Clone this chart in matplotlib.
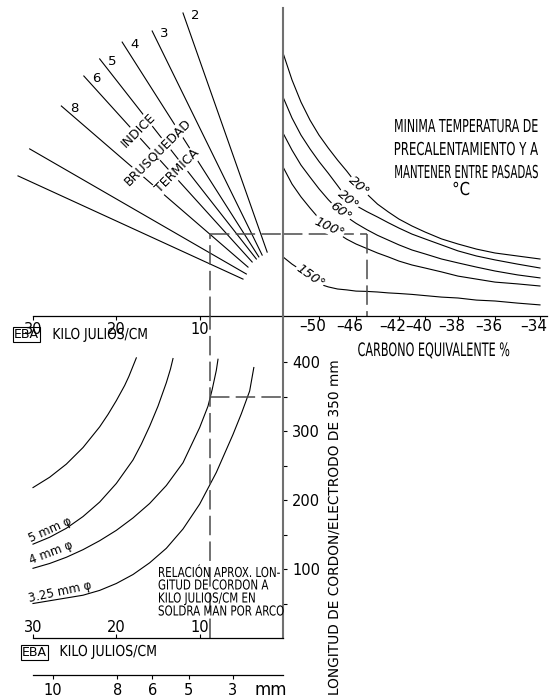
import numpy as np
import matplotlib
matplotlib.use('Agg')
import matplotlib.pyplot as plt
from matplotlib.transforms import Affine2D
from matplotlib.patheffects import AbstractPathEffect

plt.rcParams['font.family'] = ['DejaVu Sans']
plt.rcParams['lines.scale_dashes'] = False

W, H = 549, 698

# thermal severity index fan: (EBA kJ/cm, level) at both ends
tsn_labels = ['2', '3', '4', '5', '6', '8', '12', '16']
tsn_eba_start = [12.0, 15.7, 19.3, 22.0, 23.9, 26.6, 30.4, 31.8]
tsn_lvl_start = [101.0, 95.0, 91.3, 85.7, 80.0, 70.0, 55.7, 46.7]
tsn_eba_end = [1.9, 2.5, 2.9, 3.2, 3.7, 4.2, 4.4, 4.8]
tsn_lvl_end = [21.3, 20.3, 19.7, 19.0, 18.0, 16.3, 14.0, 12.3]

# carbon equivalent axis (hand ruled, so spacing is uneven)
ce_ticks = [0.50, 0.46, 0.42, 0.40, 0.38, 0.36, 0.34]
ce_tick_labels = ['–50', '–46', '–42', '–40', '–38', '–36', '–34']
ce_ref = [0.54, 0.50, 0.46, 0.42, 0.40, 0.38, 0.36, 0.34, 0.336]
ce_ref_pos = [0, 36, 73, 116, 142, 175, 212, 257, 264]

# preheat curves, level vs CE
ce = [0.54, 0.53, 0.52, 0.51, 0.50, 0.49, 0.48, 0.47, 0.46, 0.45, 0.44,
      0.43, 0.42, 0.41, 0.40, 0.39, 0.38, 0.37, 0.36, 0.35, 0.34]
pre_20a = [87.7, 78.7, 71.3, 65.3, 60.3, 56.0, 52.0, 48.3, 44.3, 40.7, 37.3,
           34.7, 32.3, 30.0, 28.0, 25.7, 24.0, 22.3, 21.0, 20.0, 19.0]
pre_20b = [73.0, 66.0, 60.3, 55.7, 51.5, 47.6, 43.5, 39.3, 36.8, 34.8, 33.0,
           31.1, 29.3, 27.3, 25.7, 23.7, 21.7, 20.0, 18.7, 17.3, 16.0]
pre_60 = [61.0, 55.3, 50.3, 46.3, 42.4, 38.8, 35.6, 33.0, 30.9, 28.8, 26.9,
          25.3, 23.7, 22.0, 20.7, 19.0, 17.7, 16.3, 15.0, 13.7, 12.7]
pre_100 = [49.7, 44.0, 39.7, 36.0, 32.5, 29.8, 27.6, 25.6, 24.0, 22.5, 21.0,
           19.7, 18.3, 17.0, 16.0, 14.7, 13.3, 12.3, 11.3, 10.7, 10.0]
pre_150 = [19.7, 17.3, 15.3, 13.0, 10.7, 9.7, 9.0, 8.7, 8.3, 8.2, 8.0,
           7.7, 7.5, 7.2, 6.8, 6.3, 6.0, 5.3, 5.0, 4.3, 3.7]
temp_text = ['20°', '20°', '60°', '100°', '150°']
temp_ce = [0.457, 0.468, 0.477, 0.489, 0.51]
temp_lvl = [43.2, 38.8, 34.8, 29.6, 13.4]

# bead length per electrode (mm) vs EBA
bead_eba_a = [30, 28, 26, 24, 22, 21, 20, 19, 18.5, 18, 17.6]
bead_len_a = [218, 233, 252, 276, 306, 324, 344, 366, 379, 394, 406]
bead_eba_5 = [30, 28, 26, 24, 22, 20, 18, 17, 16, 15, 14, 13.5, 13.2]
bead_len_5 = [136, 146, 159, 176, 197, 224, 258, 281, 307, 336, 370, 390, 405]
bead_eba_4 = [30, 28, 26, 24, 22, 20, 18, 16, 14, 12, 10, 9, 8.5, 8, 7.8]
bead_len_4 = [101, 108, 117, 128, 141, 156, 174, 195, 221, 254, 305, 336, 360, 388, 404]
bead_eba_325 = [30, 28, 26, 24, 22, 20, 18, 16, 14, 12, 10, 8, 6, 5, 4, 3.5]
bead_len_325 = [50, 54, 58, 62, 69, 79, 92, 109, 130, 158, 194, 240, 295, 325, 358, 392]
bead_text = ['5 mm φ', '4 mm φ', '3.25 mm φ']
bead_text_eba = [28.0, 27.8, 26.8]
bead_text_len = [157, 123, 66]

len_ticks = [50, 100, 150, 200, 250, 300, 350, 400]
len_labels = ['', '100', '', '200', '', '300', '', '400']
eba_ticks = [30, 20, 10]

# plate thickness scale, mm against EBA
plate_mm = [10, 8, 6, 5, 3]
plate_eba = [27.6, 19.9, 15.7, 11.3, 6.0]

# worked example
read_eba = 8.8
read_len = 350
read_lvl = 27.5
read_ce = 0.45


class Stretch(AbstractPathEffect):
    """Stretch glyphs vertically from the baseline (tall, narrow lettering)."""
    def __init__(self, sy):
        super().__init__()
        self._sy = sy

    def draw_path(self, renderer, gc, tpath, affine, rgbFace=None):
        renderer.draw_path(gc, tpath, Affine2D().scale(1, self._sy) + affine, rgbFace)


fig = plt.figure(figsize=(W / 100, H / 100), dpi=100)
rend = fig.canvas.get_renderer()


def fit(t, width, cap):
    # font size from the wanted width, then stretch up to the wanted cap height
    rot = t.get_rotation()
    t.set_rotation(0)
    w = t.get_window_extent(rend).width
    size = t.get_fontsize() * width / w
    t.set_fontsize(size)
    t.set_rotation(rot)
    t.set_path_effects([Stretch(cap / (0.729 * size * 100 / 72))])
    return t


def label(px, py, s, size, width=None, cap=None, **kw):
    kw.setdefault('va', 'baseline')
    kw.setdefault('ha', 'center')
    t = fig.text(px / W, 1 - py / H, s, fontsize=size, **kw)
    if width:
        fit(t, width, cap)
    return t


def axes_at(x0, y0, x1, y1):
    ax = fig.add_axes([x0 / W, 1 - y1 / H, (x1 - x0) / W, (y1 - y0) / H])
    ax.patch.set_visible(False)
    for s in ax.spines.values():
        s.set_visible(False)
    ax.set_yticks([])
    return ax


ink = 'black'
axis_grey = '#707070'
dash_grey = '#4a4a4a'
lw = 0.8
dash = (0, (14, 4.5))

# ---- top left: severity fan ----
ax_tl = axes_at(33, 8, 283, 316)
ax_tl.set_xlim(30, 0)
ax_tl.set_ylim(0, 308 / 3)
ax_tl.spines['bottom'].set_visible(True)
ax_tl.spines['bottom'].set_linewidth(0.9)
ax_tl.set_xticks(eba_ticks)
ax_tl.tick_params(axis='x', direction='out', length=3, width=0.8, pad=1, labelsize=10.5)

for lab, e0, l0, e1, l1 in zip(tsn_labels, tsn_eba_start, tsn_lvl_start,
                               tsn_eba_end, tsn_lvl_end):
    ax_tl.plot([e0, e1], [l0, l1], color=ink, lw=lw, clip_on=False)
    ax_tl.annotate(lab, (e0, l0), xytext=(9, -2), textcoords='offset points',
                   ha='center', va='center', fontsize=9.5)

for s, e, l in [('INDICE', 17.4, 62.0), ('BRUSQUEDAD', 15.0, 54.7), ('TERMICA', 12.7, 48.3)]:
    ax_tl.text(e, l, s, rotation=45, ha='center', va='center', fontsize=9,
               bbox=dict(fc='white', ec='none', pad=0.6), zorder=4)

ax_tl.plot([read_eba, read_eba], [0, read_lvl], color=dash_grey, lw=1.1, ls=dash, clip_on=False)
ax_tl.plot([read_eba, 0], [read_lvl, read_lvl], color=dash_grey, lw=1.1, ls=dash, clip_on=False)


# ---- top right: preheat temperature ----
# increasing in CE; the axis is then flipped with set_xlim
def ce_fwd(x):
    return -np.interp(-np.asarray(x), -np.array(ce_ref), ce_ref_pos)


def ce_inv(t):
    return np.interp(-np.asarray(t), ce_ref_pos, ce_ref)


ax_tr = axes_at(283, 8, 547, 316)
ax_tr.set_xscale('function', functions=(ce_fwd, ce_inv))
ax_tr.set_xlim(0.54, 0.336)
ax_tr.set_ylim(0, 308 / 3)
ax_tr.spines['bottom'].set_visible(True)
ax_tr.spines['bottom'].set_linewidth(0.9)
ax_tr.spines['left'].set_visible(True)
ax_tr.spines['left'].set_color(axis_grey)
ax_tr.spines['left'].set_linewidth(1.5)
ax_tr.set_xticks(ce_ticks)
ax_tr.minorticks_off()
ax_tr.tick_params(axis='x', direction='out', length=3, width=0.8, labelbottom=False)
for v, s in zip(ce_ticks, ce_tick_labels):
    ax_tr.annotate(s, (v, 0), xytext=(5, -7.5), textcoords='offset points',
                   ha='right', va='center', fontsize=11)

for curve in [pre_20a, pre_20b, pre_60, pre_100, pre_150]:
    ax_tr.plot(ce, curve, color=ink, lw=lw, clip_on=False)
# labels sit in gaps along their curves
for s, x, y, r in zip(temp_text, temp_ce, temp_lvl, [-42, -40, -38, -25, -35]):
    ax_tr.text(x, y, s, rotation=r, ha='center', va='center', fontsize=9.5,
               style='italic', bbox=dict(fc='white', ec='none', pad=0.4), zorder=4)

ax_tr.plot([0.54, read_ce], [read_lvl, read_lvl], color=dash_grey, lw=1.1, ls=dash, clip_on=False)
ax_tr.plot([read_ce, read_ce], [read_lvl, 0], color=dash_grey, lw=1.1, ls=dash, clip_on=False)

# ---- bottom: bead length ----
ax_bot = axes_at(33, 316, 283, 638)
ax_bot.set_xlim(30, 0)
ax_bot.set_ylim(0, 322 / 0.69)
ax_bot.spines['bottom'].set_visible(True)
ax_bot.spines['bottom'].set_linewidth(0.9)
ax_bot.spines['right'].set_visible(True)
ax_bot.spines['right'].set_color(axis_grey)
ax_bot.spines['right'].set_linewidth(1.5)
ax_bot.set_xticks(eba_ticks)
ax_bot.tick_params(axis='x', direction='in', length=3, width=0.8, labelbottom=False)
for v in eba_ticks:
    ax_bot.annotate(str(v), (v, 0), xytext=(0, 7.5), textcoords='offset points',
                    ha='center', va='center', fontsize=10.5)
ax_bot.yaxis.tick_right()
ax_bot.set_yticks(len_ticks, labels=len_labels)
ax_bot.tick_params(axis='y', direction='out', length=3, width=0.8, pad=3.5, labelsize=10.5)

for e, l in [(bead_eba_a, bead_len_a), (bead_eba_5, bead_len_5),
             (bead_eba_4, bead_len_4), (bead_eba_325, bead_len_325)]:
    ax_bot.plot(e, l, color=ink, lw=lw, clip_on=False)
for s, e, l, r in zip(bead_text, bead_text_eba, bead_text_len, [24, 21, 12]):
    ax_bot.text(e, l, s, rotation=r, ha='center', va='center', fontsize=8.5)

ax_bot.plot([read_eba, read_eba], [0, 322 / 0.69], color=dash_grey, lw=1.1, ls=dash, clip_on=False)
ax_bot.plot([read_eba, 0], [read_len, read_len], color=dash_grey, lw=1.1, ls=dash, clip_on=False)

# ---- plate thickness scale ----
ax_mm = axes_at(33, 674, 283, 675)
ax_mm.set_xlim(30, 0)
ax_mm.spines['bottom'].set_visible(True)
ax_mm.spines['bottom'].set_linewidth(0.9)
ax_mm.set_xticks(plate_eba, labels=[str(m) for m in plate_mm])
ax_mm.tick_params(axis='x', direction='out', length=3, width=0.8, pad=3, labelsize=10.5)

# ---- captions ----
label(434, 356, 'CARBONO EQUIVALENTE %', 10, 152, 13.5)
label(466, 132, 'MINIMA TEMPERATURA DE', 10, 144, 13)
label(466, 155, 'PRECALENTAMIENTO Y A', 10, 144, 13)
label(466, 178, 'MANTENER ENTRE PASADAS', 10, 144, 13)
label(461, 195, '°C', 10, 18, 13)
label(26, 338, 'EBA', 9, bbox=dict(boxstyle='square,pad=0.08', fc='none', ec=ink, lw=0.8))
label(100, 339, 'KILO JULIOS/CM', 10, 95, 11)
label(34, 656, 'EBA', 9, bbox=dict(boxstyle='square,pad=0.08', fc='none', ec=ink, lw=0.8))
label(108, 656, 'KILO JULIOS/CM', 10, 97, 11)

# note block: one letter size for all four lines, left aligned
note = ['RELACIÓN APROX. LON-', 'GITUD DE CORDON A',
        'KILO JULIOS/CM EN', 'SOLDRA MAN POR ARCO']
first = label(158, 577, note[0], 10, 122, 10, ha='left')
for s, y in zip(note[1:], [589.5, 602.5, 615.5]):
    label(158, y, s, first.get_fontsize(), ha='left',
          path_effects=first.get_path_effects())

label(271, 690, 'mm', 12, va='center')
label(338, 528, 'LONGITUD DE CORDON/ELECTRODO DE 350 mm', 10, 335, 10,
      rotation=90, rotation_mode='anchor')

fig.savefig('out.png', dpi=100)
